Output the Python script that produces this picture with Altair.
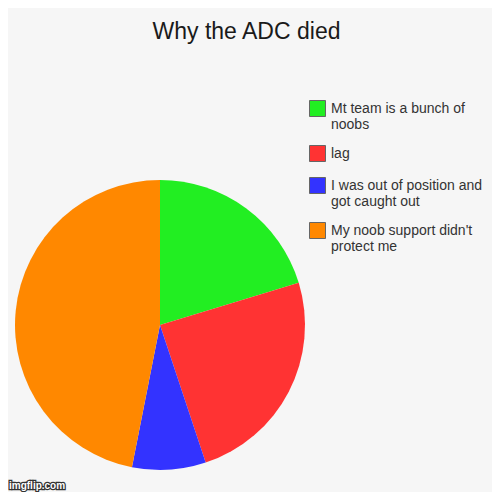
import json
import altair as alt
import pandas as pd

TITLE = "Why the ADC died"
categories = [
    "Mt team is a bunch of noobs",
    "lag",
    "I was out of position and got caught out",
    "My noob support didn't protect me",
]
legend_lines = [
    ["Mt team is a bunch of", "noobs"],
    ["lag"],
    ["I was out of position and", "got caught out"],
    ["My noob support didn't", "protect me"],
]
values = [20.3, 24.6, 8.2, 46.9]
colors = ["#22ee22", "#ff3333", "#3333ff", "#ff8800"]

df = pd.DataFrame({"cat": categories, "value": values, "idx": list(range(len(categories)))})

label_map = json.dumps(dict(zip(categories, legend_lines)))
label_expr = f"{label_map}[datum.label]"

pie = alt.Chart(df).mark_arc(outerRadius=145).encode(
    theta=alt.Theta("value:Q", stack=True),
    order=alt.Order("idx:Q"),
    color=alt.Color(
        "cat:N",
        sort=categories,
        scale=alt.Scale(domain=categories, range=colors),
        legend=alt.Legend(
            title=None,
            orient="none",
            legendX=301,
            legendY=92,
            padding=0,
            symbolType="square",
            symbolSize=256,
            symbolStrokeColor="#666666",
            symbolStrokeWidth=1,
            symbolOpacity=1,
            labelFont="Liberation Sans",
            labelFontSize=14,
            labelColor="#333333",
            labelLimit=400,
            labelOffset=5,
            labelExpr=label_expr,
            rowPadding=11,
        ),
    ),
    x=alt.value(152),
    y=alt.value(317),
)

title = alt.Chart(pd.DataFrame({"t": [TITLE]})).mark_text(
    font="Liberation Sans", fontSize=23, color="#1a1a1a", align="center", baseline="alphabetic"
).encode(text="t:N", x=alt.value(238.5), y=alt.value(30.5))

wm = alt.Chart(pd.DataFrame({"t": ["imgflip.com"]})).mark_text(
    font="Liberation Sans", fontSize=10, fontWeight="bold", color="#ffffff",
    stroke="#333333", strokeWidth=2.5, align="left", baseline="alphabetic"
).encode(text="t:N", x=alt.value(1), y=alt.value(481))
wm2 = alt.Chart(pd.DataFrame({"t": ["imgflip.com"]})).mark_text(
    font="Liberation Sans", fontSize=10, fontWeight="bold", color="#ffffff",
    align="left", baseline="alphabetic"
).encode(text="t:N", x=alt.value(1), y=alt.value(481))

chart = alt.layer(pie, title, wm, wm2).properties(
    width=484, height=484, autosize=alt.AutoSizeParams(type="none"), padding=0,
    background="#f6f6f6",
).configure_view(stroke=None)

chart.save("out.html", embed_options={"renderer": "svg", "actions": False})
